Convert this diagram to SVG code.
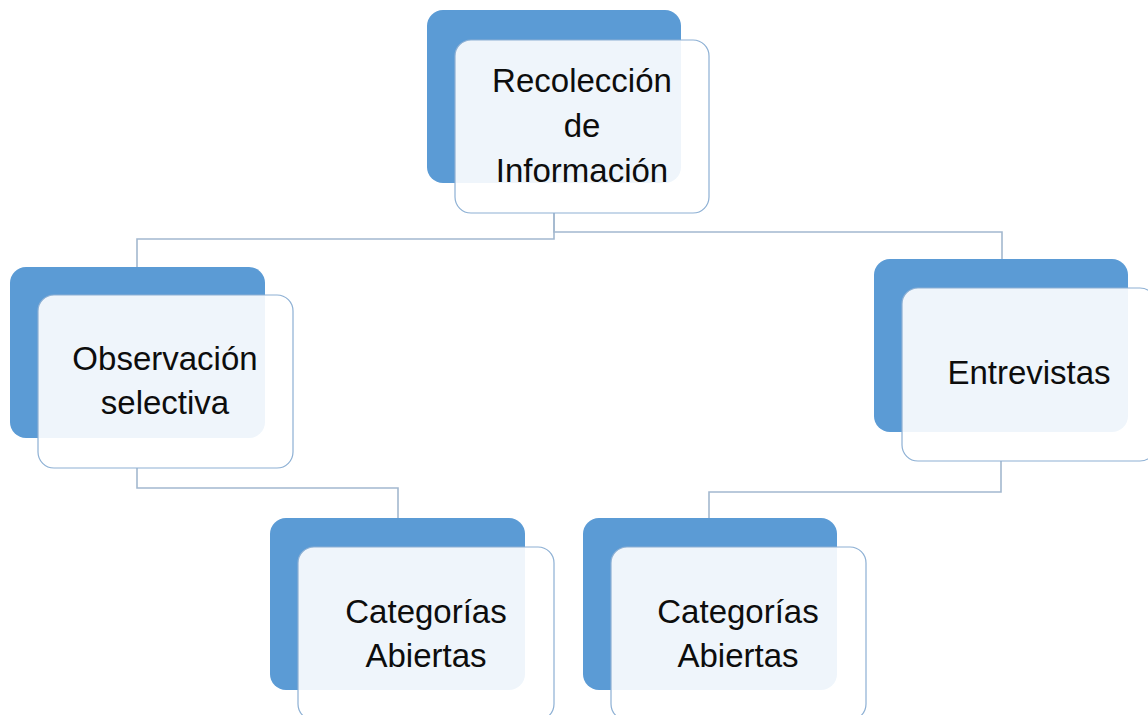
<svg xmlns="http://www.w3.org/2000/svg" width="1148" height="715" viewBox="0 0 1148 715">
<style>
.back{fill:#5b9bd5;}
.front{fill:#ffffff;fill-opacity:0.9;stroke:#8db0d4;stroke-width:1.2;}
.conn{fill:none;stroke:#a3b8cf;stroke-width:1.6;}
.lbl{font-family:"Liberation Sans",Arial,sans-serif;font-size:33px;fill:#0d0d0d;text-anchor:middle;}
</style>
<rect width="1148" height="715" fill="#ffffff"/>
<g id="connectors">
<path class="conn" d="M554,213 V239 H137 V267"/>
<path class="conn" d="M554,213 V232 H1002 V260"/>
<path class="conn" d="M137,468 V488 H398 V518"/>
<path class="conn" d="M1001,461 V492 H709 V518"/>
</g>
<g id="node-recoleccion">
<rect class="back" x="427" y="10" width="254" height="173" rx="16"/>
<rect class="front" x="455" y="40" width="254" height="173" rx="16"/>
<text class="lbl" x="582" y="92">Recolección</text>
<text class="lbl" x="582" y="137">de</text>
<text class="lbl" x="582" y="182">Información</text>
</g>
<g id="node-observacion">
<rect class="back" x="10" y="267" width="255" height="171" rx="16"/>
<rect class="front" x="38" y="295" width="255" height="173" rx="16"/>
<text class="lbl" x="165" y="370">Observación</text>
<text class="lbl" x="165" y="414">selectiva</text>
</g>
<g id="node-entrevistas">
<rect class="back" x="874" y="259" width="254" height="173" rx="16"/>
<rect class="front" x="902" y="288" width="254" height="173" rx="16"/>
<text class="lbl" x="1029" y="384">Entrevistas</text>
</g>
<g id="node-categorias-1">
<rect class="back" x="270" y="518" width="255" height="172" rx="16"/>
<rect class="front" x="298" y="547" width="256" height="173" rx="16"/>
<text class="lbl" x="426" y="623">Categorías</text>
<text class="lbl" x="426" y="667">Abiertas</text>
</g>
<g id="node-categorias-2">
<rect class="back" x="583" y="518" width="254" height="172" rx="16"/>
<rect class="front" x="611" y="547" width="255" height="173" rx="16"/>
<text class="lbl" x="738" y="623">Categorías</text>
<text class="lbl" x="738" y="667">Abiertas</text>
</g>
</svg>
